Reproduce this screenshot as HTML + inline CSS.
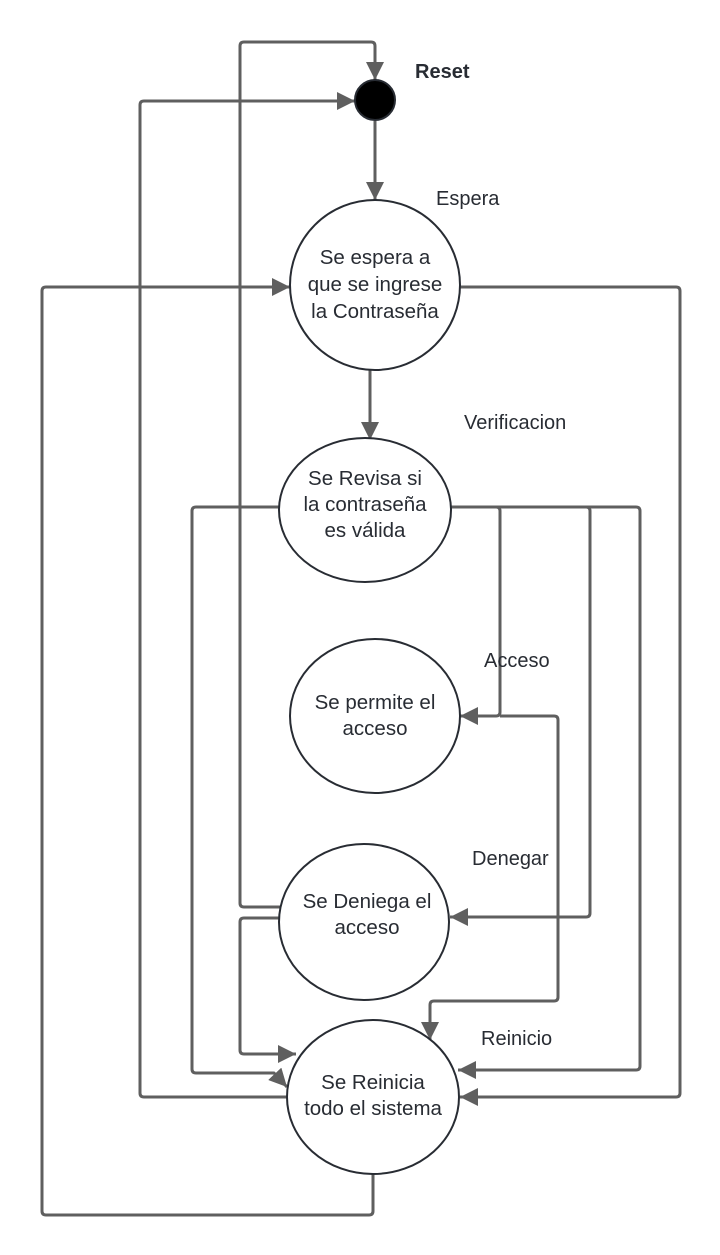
<!DOCTYPE html>
<html><head><meta charset="utf-8"><style>
html,body{margin:0;padding:0;background:#fff;}
svg{display:block;}
text{font-family:"Liberation Sans",Arial,sans-serif;fill:#282c33;}
</style></head><body>
<svg width="720" height="1255" viewBox="0 0 720 1255" xmlns="http://www.w3.org/2000/svg">
<defs>
<marker id="a" viewBox="0 0 10 10" refX="10" refY="5" markerWidth="6" markerHeight="6" orient="auto" markerUnits="strokeWidth">
<path d="M0,0 L10,5 L0,10 z" fill="#5f5f5f"/>
</marker>
</defs>
<g fill="none" stroke="#5f5f5f" stroke-width="3" stroke-linejoin="round">
<path d="M280,907 H244 Q240,907 240,903 V46 Q240,42 244,42 H371 Q375,42 375,46 V80" marker-end="url(#a)"/>
<path d="M290,1097 H144 Q140,1097 140,1093 V105 Q140,101 144,101 H355" marker-end="url(#a)"/>
<path d="M375,121 V200" marker-end="url(#a)"/>
<path d="M373,1173 V1211 Q373,1215 369,1215 H46 Q42,1215 42,1211 V291 Q42,287 46,287 H290" marker-end="url(#a)"/>
<path d="M460,287 H676 Q680,287 680,291 V1093 Q680,1097 676,1097 H460" marker-end="url(#a)"/>
<path d="M370,370 V440" marker-end="url(#a)"/>
<path d="M280,507 H196 Q192,507 192,511 V1069 Q192,1073 196,1073 H274 L287,1087" marker-end="url(#a)"/>
<path d="M451,507 H496 Q500,507 500,511 V712 Q500,716 496,716 H460" marker-end="url(#a)"/>
<path d="M451,507 H586 Q590,507 590,511 V913 Q590,917 586,917 H450" marker-end="url(#a)"/>
<path d="M451,507 H636 Q640,507 640,511 V1066 Q640,1070 636,1070 H458" marker-end="url(#a)"/>
<path d="M500,716 H554 Q558,716 558,720 V997 Q558,1001 554,1001 H434 Q430,1001 430,1005 V1040" marker-end="url(#a)"/>
<path d="M279,918 H244 Q240,918 240,922 V1050 Q240,1054 244,1054 H296" marker-end="url(#a)"/>
</g>
<g fill="#fff" stroke="#282c33" stroke-width="2">
<ellipse cx="375" cy="285" rx="85" ry="85"/>
<ellipse cx="365" cy="510" rx="86" ry="72"/>
<ellipse cx="375" cy="716" rx="85" ry="77"/>
<ellipse cx="364" cy="922" rx="85" ry="78"/>
<ellipse cx="373" cy="1097" rx="86" ry="77"/>
</g>
<circle cx="375" cy="100" r="20" fill="#000" stroke="#282c33" stroke-width="2"/>
<g font-size="20.5" text-anchor="middle">
<text x="375" y="264">Se espera a</text>
<text x="375" y="291">que se ingrese</text>
<text x="375" y="318">la Contraseña</text>
<text x="365" y="485">Se Revisa si</text>
<text x="365" y="511">la contraseña</text>
<text x="365" y="537">es válida</text>
<text x="375" y="709">Se permite el</text>
<text x="375" y="735">acceso</text>
<text x="367" y="908">Se Deniega el</text>
<text x="367" y="934">acceso</text>
<text x="373" y="1089">Se Reinicia</text>
<text x="373" y="1115">todo el sistema</text>
</g>
<g font-size="20">
<text x="415" y="78" font-weight="bold">Reset</text>
<text x="436" y="205">Espera</text>
<text x="464" y="429">Verificacion</text>
<text x="484" y="667">Acceso</text>
<text x="472" y="865">Denegar</text>
<text x="481" y="1045">Reinicio</text>
</g>
</svg>
</body></html>
